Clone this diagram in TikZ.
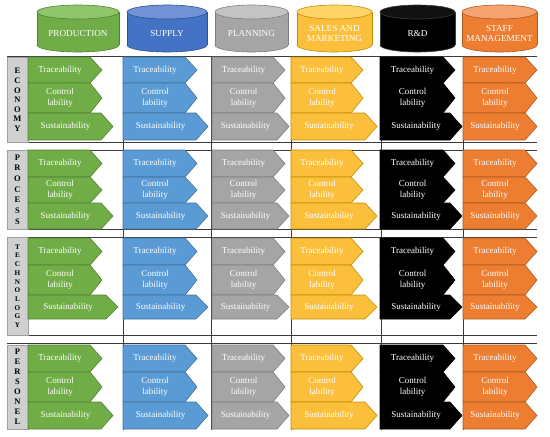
\documentclass[tikz,border=0pt]{standalone}
\usepackage{fontspec}
\setmainfont{Liberation Serif}
\definecolor{grn}{HTML}{70AD47}
\definecolor{grnd}{HTML}{548235}
\definecolor{grntop}{HTML}{8FC66B}
\definecolor{blucyl}{HTML}{4472C4}
\definecolor{blucyltop}{HTML}{7193D6}
\definecolor{blucyld}{HTML}{2F528F}
\definecolor{blu}{HTML}{5B9BD5}
\definecolor{blud}{HTML}{41719C}
\definecolor{gry}{HTML}{A5A5A5}
\definecolor{gryd}{HTML}{7F7F7F}
\definecolor{grytop}{HTML}{C3C3C3}
\definecolor{gld}{HTML}{FBBF3C}
\definecolor{gldd}{HTML}{BF9000}
\definecolor{gldtop}{HTML}{FFD466}
\definecolor{blk}{HTML}{000000}
\definecolor{blkd}{HTML}{3A3A3A}
\definecolor{blktop}{HTML}{111111}
\definecolor{org}{HTML}{ED7D31}
\definecolor{orgd}{HTML}{AE5A21}
\definecolor{orgtop}{HTML}{F4A371}
\definecolor{rowfill}{HTML}{D0D0D0}
\definecolor{rowdraw}{HTML}{A0A0A0}
\definecolor{rule}{HTML}{3A3A3A}
\tikzset{
  lbl/.style={text=white, font=\fontsize{9}{11}\selectfont, align=center, inner sep=0pt},
  hdr/.style={text=white, font=\fontsize{9.2}{10}\selectfont, align=center, inner sep=0pt},
  rowbox/.style={fill=rowfill, draw=rowdraw, line width=0.6pt, minimum width=21pt, inner sep=0pt, align=center, font=\bfseries},
  gridline/.style={draw=rule, line width=0.9pt},
}
\newcommand\chevr[8]{%
  \pgfmathsetmacro\cbe{#3-12}%
  \pgfmathsetmacro\cym{(#4+#5)/2}%
  \pgfmathsetmacro\ctx{(#2+\cbe)/2+1}%
  \filldraw[fill=#6,draw=#7,line width=0.6pt] (#2,#4) -- (\cbe,#4) -- (#3,\cym) -- (\cbe,#5) -- (#2,#5) -- cycle;
  \node[lbl] (#1) at (\ctx,\cym) {#8};
}
\newcommand\colblock[6]{%
  \chevr{#1t}{#2}{#3}{\ya}{\yb}{#5}{#6}{Traceability}%
  \chevr{#1c}{#2}{#3}{\yb}{\yc}{#5}{#6}{Control\\lability}%
  \chevr{#1s}{#2}{#4}{\yc}{\yd}{#5}{#6}{Sustainability}%
}
\newcommand\allcols[2]{%
  \colblock{#1prod}{28}{102}{#2}{grn}{grnd}%
  \colblock{#1supp}{123}{197}{208}{blu}{blud}%
  \colblock{#1plan}{212}{285}{289}{gry}{gryd}%
  \colblock{#1sale}{291}{363}{377}{gld}{gldd}%
  \colblock{#1rnd}{380}{455}{462}{blk}{blk}%
  \colblock{#1staf}{463}{537}{537}{org}{orgd}%
}
\newcommand\cyl[7]{%
  \pgfmathsetmacro\cxm{(#2+#3)/2}%
  \pgfmathsetmacro\crx{(#3-#2)/2}%
  \filldraw[fill=#4,draw=#6,line width=0.6pt] (\cxm,45) ellipse [x radius=\crx, y radius=7];
  \fill[#4] (#2,12) rectangle (#3,45);
  \draw[#6,line width=0.6pt] (#2,12) -- (#2,45) (#3,12) -- (#3,45);
  \filldraw[fill=#5,draw=#6,line width=0.6pt] (\cxm,12) ellipse [x radius=\crx, y radius=7];
  \node[hdr] (#1) at (\cxm,33) {#7};
}
\begin{document}
\begin{tikzpicture}[x=1pt,y=-1pt]
\useasboundingbox (0,0) rectangle (550,437);
% header cylinders
\cyl{production}{37}{119}{grn}{grntop}{grnd}{PRODUCTION}
\cyl{supply}{127}{207}{blucyl}{blucyltop}{blucyld}{SUPPLY}
\cyl{planning}{215}{288}{gry}{grytop}{gryd}{PLANNING}
\cyl{sales}{297}{372}{gld}{gldtop}{gldd}{SALES AND\\MARKETING}
\cyl{rnd}{380}{455}{blk}{blktop}{blkd}{R\&D}
\cyl{staff}{462}{537}{org}{orgtop}{orgd}{STAFF\\MANAGEMENT}
% grid lines
\foreach \yy in {56,142,150,229,237,335,343}
  \draw[gridline] (7,\yy) -- (537,\yy);
\foreach \xx in {123,211,291,381,463}
  \draw[gridline] (\xx,56) -- (\xx,430);
% row labels
\node[rowbox, minimum height=85pt, font=\bfseries\fontsize{8.5}{9.6}\selectfont] (economy) at (17.5,100) {E\\C\\O\\N\\O\\M\\Y};
\node[rowbox, minimum height=79pt, font=\bfseries\fontsize{8.5}{10.7}\selectfont] (process) at (17.5,189.5) {P\\R\\O\\C\\E\\S\\S};
\node[rowbox, minimum height=98pt, font=\bfseries\fontsize{7.2}{8.7}\selectfont] (technology) at (17.5,286) {T\\E\\C\\H\\N\\O\\L\\O\\G\\Y};
\node[rowbox, minimum height=84pt, font=\bfseries\fontsize{8.5}{10}\selectfont] (personel) at (17.5,387) {P\\E\\R\\S\\O\\N\\E\\L};
% blocks
\def\ya{57}\def\yb{83}\def\yc{113}\def\yd{140}
\allcols{e-}{113}
\def\ya{150}\def\yb{177}\def\yc{203}\def\yd{229}
\allcols{p-}{113}
\def\ya{238}\def\yb{265}\def\yc{295}\def\yd{319}
\allcols{t-}{118}
\def\ya{345}\def\yb{372}\def\yc{402}\def\yd{429}
\allcols{n-}{113}
\end{tikzpicture}
\end{document}
